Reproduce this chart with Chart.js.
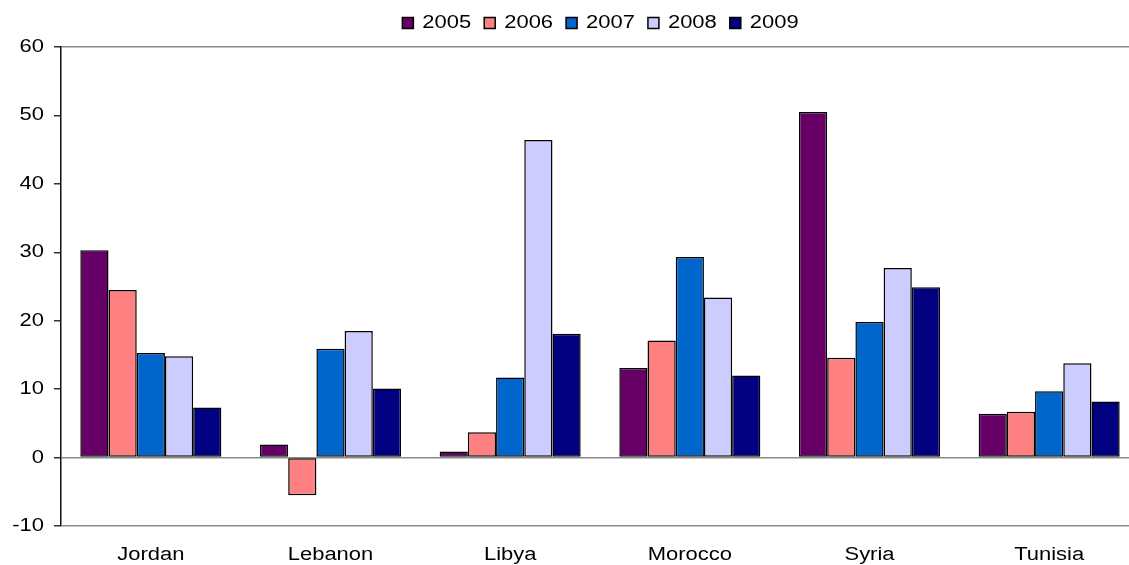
<!DOCTYPE html>
<html>
<head>
<meta charset="utf-8">
<script src="https://cdn.jsdelivr.net/npm/chart.js@4/dist/chart.umd.min.js"></script>
<style>
  html, body { margin: 0; padding: 0; background: #ffffff; }
  #wrap { width: 1129px; height: 565px; position: relative; overflow: hidden; }
</style>
</head>
<body>
<div id="wrap"><canvas id="chart" width="1139" height="565"></canvas></div>
<script>
// Categories and yearly values
const categories = ['Jordan', 'Lebanon', 'Libya', 'Morocco', 'Syria', 'Tunisia'];
const years = ['2005', '2006', '2007', '2008', '2009'];
const values2005 = [30.3, 1.9, 0.9, 13.1, 50.5, 6.4];
const values2006 = [24.5, -5.5, 3.7, 17.1, 14.6, 6.7];
const values2007 = [15.3, 15.9, 11.7, 29.3, 19.8, 9.7];
const values2008 = [14.8, 18.5, 46.4, 23.4, 27.7, 13.8];
const values2009 = [7.3, 10.1, 18.1, 12.0, 24.9, 8.2];
const yTicks = [-10, 0, 10, 20, 30, 40, 50, 60];

const seriesValues = [values2005, values2006, values2007, values2008, values2009];
const seriesColors = ['#660066', '#FF8080', '#0066CC', '#CCCCFF', '#000080'];

const FONT = "'Liberation Sans', Arial, sans-serif";
const TEXT_WIDEN = 1.22;

// Labels in this chart use a horizontally widened typeface.
const canvas = document.getElementById('chart');
const ctx2d = canvas.getContext('2d');
(function widenText(ctx) {
  const fill = ctx.fillText.bind(ctx);
  const measure = ctx.measureText.bind(ctx);
  ctx.fillText = function (text, x, y) {
    ctx.save();
    ctx.translate(x, y);
    ctx.scale(TEXT_WIDEN, 1);
    fill(text, 0, 0);
    ctx.restore();
  };
  ctx.measureText = function (text) {
    const m = measure(text);
    return {
      width: m.width * TEXT_WIDEN,
      actualBoundingBoxAscent: m.actualBoundingBoxAscent,
      actualBoundingBoxDescent: m.actualBoundingBoxDescent,
      actualBoundingBoxLeft: m.actualBoundingBoxLeft * TEXT_WIDEN,
      actualBoundingBoxRight: m.actualBoundingBoxRight * TEXT_WIDEN
    };
  };
})(ctx2d);

// Moves the legend row so it sits centred over the plot.
const legendOffset = {
  id: 'legendOffset',
  afterLayout(chart) {
    const lg = chart.legend;
    if (lg) { lg.left += 31; lg.right += 31; lg.top -= 5; lg.bottom -= 5; }
  }
};

const framed = new Set([60, 0, -10]);

new Chart(ctx2d, {
  type: 'bar',
  data: {
    labels: categories,
    datasets: years.map((y, i) => ({
      label: y,
      data: seriesValues[i],
      backgroundColor: seriesColors[i],
      borderColor: '#000000',
      borderWidth: 1.5,
      borderSkipped: false,
      categoryPercentage: 0.785,
      barPercentage: 1.0
    }))
  },
  options: {
    responsive: false,
    animation: false,
    devicePixelRatio: 1,
    layout: { padding: { top: 6, right: 0, bottom: 0, left: 0 } },
    plugins: {
      legend: {
        position: 'top',
        labels: {
          boxWidth: 11,
          boxHeight: 11,
          padding: 13,
          color: '#000000',
          font: { family: FONT, size: 18 }
        }
      },
      tooltip: { enabled: false }
    },
    scales: {
      x: {
        grid: { display: false },
        border: { display: false },
        ticks: {
          color: '#000000',
          padding: 10,
          font: { family: FONT, size: 18 }
        },
        afterFit(scale) { scale.height = 39; }
      },
      y: {
        min: -10,
        max: 60,
        afterBuildTicks(scale) { scale.ticks = yTicks.map(v => ({ value: v })); },
        grid: {
          color: c => (c.tick && framed.has(c.tick.value)) ? '#8a8a8a' : 'rgba(0,0,0,0)',
          lineWidth: 1.5,
          tickColor: '#333333',
          tickLength: 7,
          drawTicks: true
        },
        border: { display: true, color: '#111111', width: 1.5 },
        ticks: {
          color: '#000000',
          padding: 10,
          font: { family: FONT, size: 18 }
        },
        afterFit(scale) { scale.width = 61; }
      }
    }
  },
  plugins: [legendOffset]
});
</script>
</body>
</html>
